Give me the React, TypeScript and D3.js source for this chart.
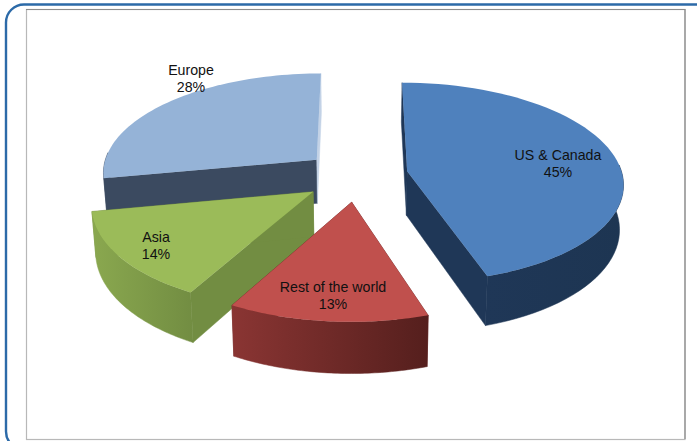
import { useEffect, useRef } from 'react';
import * as d3 from 'd3';

const WIDTH = 697;
const HEIGHT = 441;

const regions = ['US & Canada', 'Rest of the world', 'Asia', 'Europe'];
const shares = [45, 13, 14, 28];

// look of each slice, same order as regions
const topColors = ['#4f81bd', '#c0504d', '#9bbb59', '#95b3d7'];
const startSideColors = ['#1f3757', '#6f2a29', '#728d42', '#3b4a60'];
const endSideColors = ['#1f3757', '#6f2a29', '#728d42', '#c3d2e6'];
const wallStops = [
  ['#1f3757', '#1d3552'],
  ['#8a3533', '#551f1d'],
  ['#8aa84f', '#728d42'],
  ['#3b4a60', '#3b4a60'],
];
// how far each slice is pulled away from the middle (pie radius = 1)
const offsetX = [0.234, -0.024, -0.2, -0.19];
const offsetY = [0.012, 0.315, 0.215, -0.105];
const labelX = [558, 333, 156, 191];
const labelY = [160, 292, 242, 75];
const drawOrder = [3, 0, 2, 1];

// perspective of the tilted plate
const VANISH_X = 357;
const VANISH_Y = -700;
const PLANE_H = 870;
const RADIUS_X = 214;
const TILT = 0.113;
const DEPTH = 44;
const BOTTOM_SHRINK = 0.985;

type Pt = [number, number];

const project = (x: number, y: number): Pt => {
  const t = 1 / (1 - TILT * y);
  return [VANISH_X + RADIUS_X * x * t, VANISH_Y + PLANE_H * t];
};

// same spot on the lower face of the plate
const lower = (x: number, y: number): Pt => {
  const t = 1 / (1 - TILT * y);
  const p = project(x, y);
  return [VANISH_X + (p[0] - VANISH_X) * BOTTOM_SHRINK, p[1] + DEPTH * t];
};

export default function App() {
  const svgRef = useRef<SVGSVGElement>(null);

  useEffect(() => {
    if (!svgRef.current) return;
    const svg = d3.select(svgRef.current);
    svg.selectAll('*').remove();

    // frame
    svg.append('rect')
      .attr('x', 6).attr('y', 4.5)
      .attr('width', 760).attr('height', 445)
      .attr('rx', 18)
      .attr('fill', '#fff')
      .attr('stroke', '#2c6aa8')
      .attr('stroke-width', 2.4);
    svg.append('rect')
      .attr('x', 26.5).attr('y', 9.5)
      .attr('width', 658.5).attr('height', 430)
      .attr('fill', '#fff')
      .attr('stroke', '#b8b8b8')
      .attr('stroke-width', 1.2);
    svg.append('path')
      .attr('d', 'M26,9.5H685V439')
      .attr('fill', 'none')
      .attr('stroke', '#8c8c8c')
      .attr('stroke-width', 1.2);

    const defs = svg.append('defs');
    wallStops.forEach((stops, i) => {
      const grad = defs.append('linearGradient').attr('id', `wall-${i}`);
      grad.append('stop').attr('offset', '0%').attr('stop-color', stops[0]);
      grad.append('stop').attr('offset', '100%').attr('stop-color', stops[1]);
    });

    const arcs = d3.pie<number>().sort(null).startAngle(0)(shares);
    const line = d3.line();

    drawOrder.forEach(i => {
      const { startAngle, endAngle } = arcs[i];
      const cx = offsetX[i];
      const cy = offsetY[i];
      const steps = d3.range(0, 61).map(k => startAngle + (endAngle - startAngle) * k / 60);
      const rim = steps.map(a => [cx + Math.sin(a), cy - Math.cos(a)] as Pt);
      const first = rim[0];
      const last = rim[rim.length - 1];
      const g = svg.append('g');

      // flat sides
      [first, last].forEach((end, k) => {
        const color = k === 0 ? startSideColors[i] : endSideColors[i];
        g.append('path')
          .attr('d', line([
            project(cx, cy),
            project(end[0], end[1]),
            lower(end[0], end[1]),
            lower(cx, cy),
          ])! + 'Z')
          .attr('fill', color)
          .attr('stroke', color)
          .attr('stroke-width', 0.5);
      });

      // round outer wall, only the part that faces the viewer
      const front = steps
        .filter(a => Math.cos(a) < 0.1)
        .map(a => [cx + Math.sin(a), cy - Math.cos(a)] as Pt);
      const wall = [
        ...front.map(p => project(p[0], p[1])),
        ...front.slice().reverse().map(p => lower(p[0], p[1])),
      ];
      g.append('path')
        .attr('d', line(wall)! + 'Z')
        .attr('fill', `url(#wall-${i})`)
        .attr('stroke', `url(#wall-${i})`)
        .attr('stroke-width', 0.5);

      // top face
      const top = [project(cx, cy), ...rim.map(p => project(p[0], p[1]))];
      g.append('path')
        .attr('d', line(top)! + 'Z')
        .attr('fill', topColors[i]);
    });

    // labels
    regions.forEach((name, i) => {
      const label = svg.append('text')
        .attr('text-anchor', 'middle')
        .style('font-family', '"Liberation Sans", Arial, sans-serif')
        .style('font-size', '14.2px')
        .style('fill', '#111');
      label.append('tspan').attr('x', labelX[i]).attr('y', labelY[i]).text(name);
      label.append('tspan').attr('x', labelX[i]).attr('y', labelY[i] + 17).text(`${shares[i]}%`);
    });
  }, []);

  return (
    <svg
      ref={svgRef}
      width={WIDTH}
      height={HEIGHT}
      style={{ position: 'fixed', left: 0, top: 0, display: 'block', background: '#fff' }}
    />
  );
}
